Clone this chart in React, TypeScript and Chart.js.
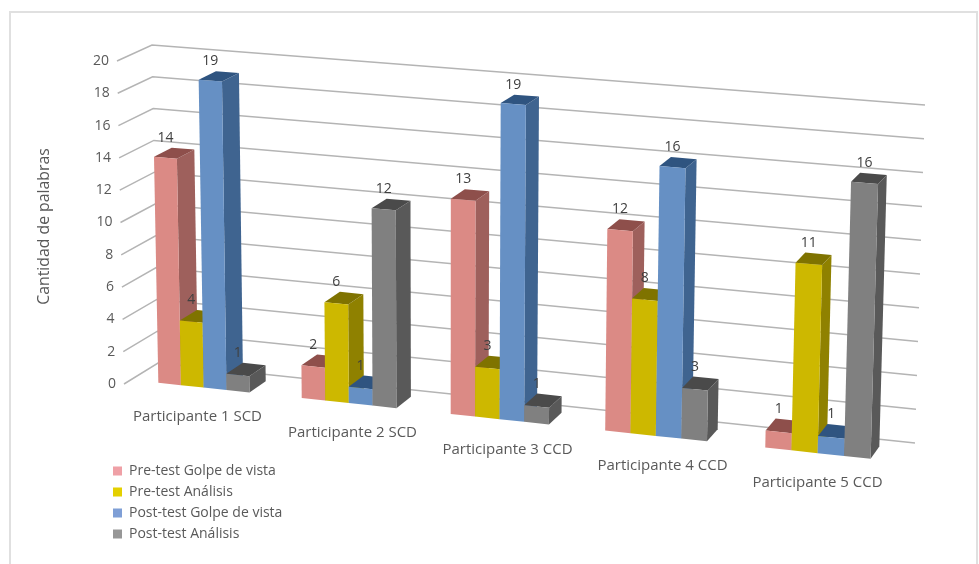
import React, { useEffect, useRef } from "react";
import { Chart, registerables } from "chart.js";

Chart.register(...registerables);

const categories = [
  "Participante 1 SCD",
  "Participante 2 SCD",
  "Participante 3 CCD",
  "Participante 4 CCD",
  "Participante 5 CCD",
];
const preGolpe = [14, 2, 13, 12, 1];
const preAnalisis = [4, 6, 3, 8, 11];
const postGolpe = [19, 1, 19, 16, 1];
const postAnalisis = [1, 12, 1, 3, 16];

const seriesNames = [
  "Pre-test Golpe de vista",
  "Pre-test Análisis",
  "Post-test Golpe de vista",
  "Post-test Análisis",
];
const seriesValues = [preGolpe, preAnalisis, postGolpe, postAnalisis];
const frontColors = ["#DB8A85", "#CDB800", "#6690C4", "#808080"];
const sideColors = ["#9E605C", "#8F8100", "#3F6490", "#595959"];
const topColors = ["#8E4F4B", "#7F7300", "#2F5480", "#4A4A4A"];
const legendColors = ["#EFA0A6", "#E4D000", "#7F9FD6", "#979797"];

type Pt = [number, number];

// Corners of the 3D plot box as seen on the canvas.
const box = {
  frontBottomLeft: [124, 384] as Pt,
  frontBottomRight: [899, 467] as Pt,
  frontTopLeft: [117, 61] as Pt,
  frontTopRight: [909, 121] as Pt,
  backBottomLeft: [158, 363] as Pt,
  backBottomRight: [915, 443] as Pt,
  backTopLeft: [152, 45] as Pt,
  backTopRight: [925, 105] as Pt,
};
const barDepthFront = 0.2;
const barDepthBack = 0.72;
const widthWarp = -0.09;

const mix = (a: number, b: number, t: number) => a + (b - a) * t;

// Trilinear projection: u along categories, v along values, w into the depth.
function project(u: number, v: number, w: number): Pt {
  const at = (i: 0 | 1) => {
    const fb = mix(box.frontBottomLeft[i], box.frontBottomRight[i], u);
    const ft = mix(box.frontTopLeft[i], box.frontTopRight[i], u);
    const bb = mix(box.backBottomLeft[i], box.backBottomRight[i], u);
    const bt = mix(box.backTopLeft[i], box.backTopRight[i], u);
    return mix(mix(fb, ft, v), mix(bb, bt, v), w);
  };
  return [at(0), at(1)];
}

// Bars grow slightly wider towards the near end of the category axis.
const foreshorten = (u: number) => u + widthWarp * u * (1 - u) + 0.003 - 0.005 * u;

function fillPoly(ctx: CanvasRenderingContext2D, pts: Pt[], color: string) {
  ctx.beginPath();
  pts.forEach((p, i) => (i ? ctx.lineTo(p[0], p[1]) : ctx.moveTo(p[0], p[1])));
  ctx.closePath();
  ctx.fillStyle = color;
  ctx.fill();
}

const TEXT_FONT = '"Open Sans", sans-serif';

const perspectivePlugin = {
  id: "perspectiveBars",
  afterLayout(chart: any) {
    const legend = chart.legend;
    if (legend) {
      const w = legend.width;
      const h = legend.height;
      legend.left = 106;
      legend.top = 457;
      legend.right = 106 + w;
      legend.bottom = 457 + h;
    }
  },
  beforeDatasetsDraw(chart: any) {
    const { ctx, chartArea: area, scales } = chart;
    const xs = scales.x;
    const ys = scales.y;
    const W = area.right - area.left;
    const H = area.bottom - area.top;
    const toU = (px: number) => (px - area.left) / W;
    const toV = (py: number) => (area.bottom - py) / H;

    ctx.save();

    // Value gridlines on the side wall and the back wall.
    ctx.strokeStyle = "#B4B4B4";
    ctx.lineWidth = 1.5;
    ys.ticks.forEach((t: any) => {
      const v = toV(ys.getPixelForValue(t.value));
      const a = project(0, v, 0);
      const b = project(0, v, 1);
      const c = project(1, v, 1);
      ctx.beginPath();
      ctx.moveTo(a[0], a[1]);
      ctx.lineTo(b[0], b[1]);
      ctx.lineTo(c[0], c[1]);
      ctx.stroke();
    });

    // Value axis labels follow the slanted front edge.
    ctx.fillStyle = "#595959";
    ctx.font = `14px ${TEXT_FONT}`;
    ctx.textAlign = "right";
    ctx.textBaseline = "middle";
    ys.ticks.forEach((t: any) => {
      const py = ys.getPixelForValue(t.value);
      const a = project(0, toV(py), 0);
      ctx.fillText(String(t.value), a[0] - 8, a[1]);
    });

    // Category labels run along the front floor edge.
    ctx.font = `15px ${TEXT_FONT}`;
    ctx.textAlign = "center";
    categories.forEach((name, i) => {
      const px = xs.getPixelForTick(i);
      const a = project(toU(px), 0, 0);
      ctx.fillText(xs.getLabelForValue(i) || name, px - 4, a[1] + 24);
    });

    // Boxes are painted group by group, left to right, so nearer faces cover older ones.
    const labels: { text: string; x: number; y: number }[] = [];
    categories.forEach((_, i) => {
      seriesValues.forEach((values, d) => {
        const el = chart.getDatasetMeta(d).data[i];
        const l = foreshorten(toU(el.x - el.width / 2));
        const r = foreshorten(toU(el.x + el.width / 2));
        const v0 = toV(el.base);
        const v1 = toV(el.y);
        const p0 = barDepthFront;
        const p1 = barDepthBack;
        fillPoly(ctx, [project(r, v0, p0), project(r, v1, p0), project(r, v1, p1), project(r, v0, p1)], sideColors[d]);
        fillPoly(ctx, [project(l, v1, p0), project(r, v1, p0), project(r, v1, p1), project(l, v1, p1)], topColors[d]);
        fillPoly(ctx, [project(l, v0, p0), project(r, v0, p0), project(r, v1, p0), project(l, v1, p0)], frontColors[d]);
        const mid = (l + r) / 2;
        labels.push({
          text: String(values[i]),
          x: project(mid, v1, p0)[0],
          y: project(mid, v1, p1)[1] - 11,
        });
      });
    });

    // Value labels sit on top of every box.
    ctx.fillStyle = "#404040";
    ctx.font = `14px ${TEXT_FONT}`;
    ctx.textAlign = "center";
    labels.forEach((lab) => ctx.fillText(lab.text, lab.x, lab.y));

    ctx.restore();
    return false;
  },
};

export default function App() {
  const ref = useRef<HTMLCanvasElement>(null);
  useEffect(() => {
    const chart = new Chart(ref.current as HTMLCanvasElement, {
      type: "bar",
      data: {
        labels: categories,
        datasets: seriesNames.map((label, d) => ({
          label,
          data: seriesValues[d],
          backgroundColor: frontColors[d],
          barPercentage: 1,
          categoryPercentage: 0.64,
        })),
      },
      options: {
        animation: false,
        responsive: false,
        layout: { padding: { left: 0, right: 80, top: 65, bottom: 176 } },
        scales: {
          x: {
            ticks: { display: false },
            grid: { display: false },
            border: { display: false },
            afterFit: (s: any) => {
              s.height = 0;
            },
          },
          y: {
            min: 0,
            max: 20,
            ticks: { display: false, stepSize: 2 },
            grid: { display: false },
            border: { display: false },
            title: {
              display: true,
              text: "Cantidad de palabras",
              color: "#595959",
              font: { family: TEXT_FONT, size: 15.8 },
              padding: { top: 35, bottom: 0 },
            },
            afterFit: (s: any) => {
              s.width = 124;
            },
          },
        },
        plugins: {
          tooltip: { enabled: false },
          legend: {
            position: "chartArea",
            align: "start",
            labels: {
              boxWidth: 9,
              boxHeight: 9,
              padding: 7,
              color: "#595959",
              font: { family: TEXT_FONT, size: 14 },
              generateLabels: () =>
                seriesNames.map((text, d) => ({
                  text,
                  fillStyle: legendColors[d],
                  strokeStyle: legendColors[d],
                  lineWidth: 0,
                  datasetIndex: d,
                  fontColor: "#595959",
                })),
            },
          },
        },
      },
      plugins: [perspectivePlugin],
    } as any);
    return () => chart.destroy();
  }, []);
  return (
    <div style={{ position: "absolute", left: 0, top: 0, width: 979, height: 564, overflow: "hidden", background: "#fff" }}>
      <div
        style={{
          position: "absolute",
          left: 9,
          top: 11,
          width: 969,
          height: 553,
          borderStyle: "solid",
          borderColor: "#E0E0E0",
          borderWidth: "2px 2px 0 2px",
          boxSizing: "border-box",
        }}
      />
      <canvas ref={ref} width={979} height={564} style={{ position: "absolute", left: 0, top: 0 }} />
    </div>
  );
}
